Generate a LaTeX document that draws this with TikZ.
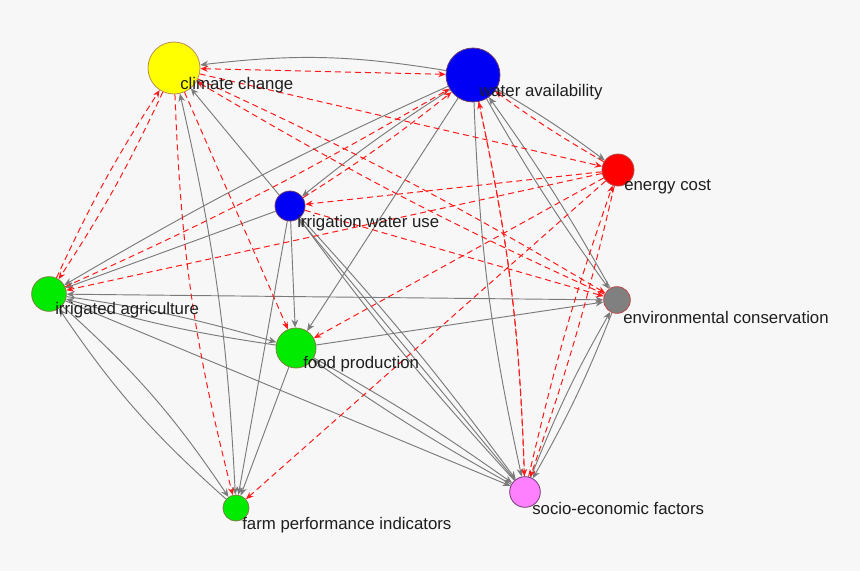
\documentclass[tikz,border=0pt]{standalone}
\usepackage{fontspec}
\setmainfont{Liberation Sans}
\usepackage{tikz}
\usetikzlibrary{arrows.meta}
\definecolor{canvasbg}{RGB}{247,247,247}
\definecolor{linkgray}{RGB}{122,122,122}
\definecolor{riskred}{RGB}{255,25,25}
\definecolor{labelink}{RGB}{30,30,30}
\definecolor{cyellow}{RGB}{255,255,0}
\definecolor{cblue}{RGB}{0,0,245}
\definecolor{cred}{RGB}{255,0,0}
\definecolor{cgreen}{RGB}{0,235,0}
\definecolor{cgray}{RGB}{128,128,128}
\definecolor{cpink}{RGB}{255,128,255}
\definecolor{rimbrown}{RGB}{190,140,90}
\definecolor{rimdark}{RGB}{110,60,110}
\definecolor{rimgreen}{RGB}{120,130,60}
\definecolor{rimred}{RGB}{190,70,70}
\pgfdeclarelayer{back}
\pgfdeclarelayer{links}
\pgfsetlayers{back,links,main}

\begin{document}
\begin{tikzpicture}[x=0.75pt,y=-0.75pt,
  factor/.style={circle,inner sep=0pt,line width=0.6pt},
  tag/.style={anchor=west,inner sep=0pt,text=labelink,font=\fontsize{12.6}{15}\selectfont},
  link/.style={draw=linkgray,line width=0.7pt,-{Stealth[length=6pt,width=5pt]}},
  linkboth/.style={link,{Stealth[length=6pt,width=5pt]}-{Stealth[length=6pt,width=5pt]}},
  risk/.style={draw=riskred,line width=0.75pt,dash pattern=on 4.5pt off 3pt,-{Stealth[length=5.5pt,width=4.5pt]}},
  riskboth/.style={risk,{Stealth[length=5.5pt,width=4.5pt]}-{Stealth[length=5.5pt,width=4.5pt]}}
]
\begin{pgfonlayer}{back}
\fill[canvasbg] (0,0) rectangle (860,571);
\end{pgfonlayer}
\useasboundingbox (0,0) rectangle (860,571);

% factors
\node[factor,fill=cyellow,draw=rimbrown,minimum size=39pt] (cc) at (174,68) {};
\node[factor,fill=cblue,draw=rimdark,minimum size=40.5pt] (wa) at (473,75) {};
\node[factor,fill=cred,draw=rimred,minimum size=24pt] (enc) at (618,170) {};
\node[factor,fill=cblue,draw=rimdark,minimum size=22.5pt] (iwu) at (290,206) {};
\node[factor,fill=cgreen,draw=rimgreen,minimum size=26pt] (ia) at (49,294) {};
\node[factor,fill=cgray,draw=rimred,minimum size=20pt] (ec) at (617,300) {};
\node[factor,fill=cgreen,draw=rimgreen,minimum size=30pt] (fp) at (296,348) {};
\node[factor,fill=cgreen,draw=rimgreen,minimum size=19.5pt] (fpi) at (236,508) {};
\node[factor,fill=cpink,draw=rimdark,minimum size=23pt] (sef) at (525,492) {};

% labels
\node[tag] (cc-tag) at (180,85) {climate change};
\node[tag] (wa-tag) at (479,92) {water availability};
\node[tag] (enc-tag) at (624,187) {energy cost};
\node[tag] (iwu-tag) at (297,223) {irrigation water use};
\node[tag] (ia-tag) at (55,310) {irrigated agriculture};
\node[tag] (ec-tag) at (623,317) {environmental conservation};
\node[tag] (fp-tag) at (303,364) {food production};
\node[tag] (fpi-tag) at (242,525) {farm performance indicators};
\node[tag] (sef-tag) at (532,508) {socio-economic factors};

\begin{pgfonlayer}{links}
% solid influences
\foreach \a/\b/\t in {wa/cc/-8,sef/cc/0,wa/iwu/-3,wa/fp/0,wa/ia/-3,wa/sef/-5,wa/enc/3,
    wa/ec/-3,ec/wa/-3,iwu/ia/0,iwu/fp/0,iwu/fpi/0,iwu/sef/3,sef/iwu/3,
    ia/fp/4,fp/ia/4,ia/sef/0,ia/fpi/7,fpi/ia/7,fp/ec/0,fp/sef/3,sef/fp/3,
    fp/fpi/0,ec/sef/4,sef/ec/4}
  \draw[link] (\a) to[bend left=\t] (\b);
\draw[linkboth] (cc) to[bend left=5] (fpi);
\draw[linkboth] (ia) -- (ec);
% dashed influences
\foreach \a/\b/\t in {cc/ia/4,ia/cc/4,cc/fpi/-6,cc/fp/0,cc/ec/3,ec/cc/3,cc/enc/0,
    enc/wa/3,enc/iwu/0,enc/ia/0,enc/fp/0,enc/fpi/0,enc/sef/3,sef/enc/3,
    wa/sef/5,sef/wa/-5,iwu/wa/-3,iwu/ec/0,ia/wa/-3}
  \draw[risk] (\a) to[bend left=\t] (\b);
\draw[riskboth] (cc) -- (wa);
\end{pgfonlayer}
\end{tikzpicture}
\end{document}
